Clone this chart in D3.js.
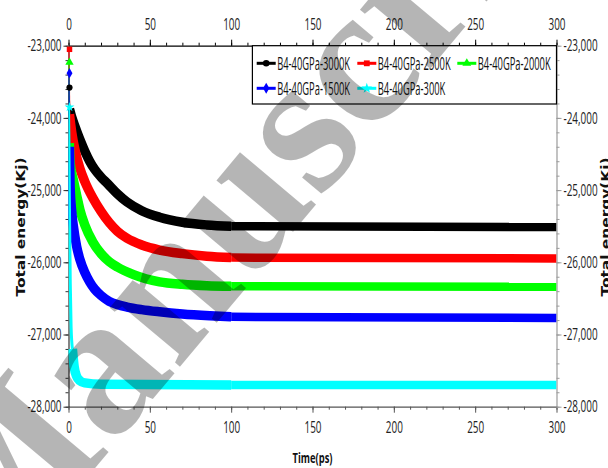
<!DOCTYPE html>
<html>
<head>
<meta charset="utf-8">
<script src="https://cdn.jsdelivr.net/npm/d3@7"></script>
<style>
  html, body { margin: 0; padding: 0; background: #fff; }
  svg { display: block; }
</style>
</head>
<body>
<svg id="chart" width="608" height="468"></svg>
<script>
// ---- data: time (ps) and total energy (kJ) for each run ----
const seriesNames = ["B4-40GPa-3000K", "B4-40GPa-2500K", "B4-40GPa-2000K", "B4-40GPa-1500K", "B4-40GPa-300K"];
const seriesColors = ["#000000", "#ff0000", "#00ff00", "#0000ff", "#00ffff"];

const run3000K = [[0,-23580],[0.6,-23880],[1,-23910],[2,-23990],[4,-24120],[7,-24300],[10,-24460],[13,-24600],[16,-24710],[20,-24820],[24,-24910],[30,-25050],[36,-25165],[45,-25285],[56,-25375],[70,-25445],[85,-25482],[100,-25500],[300,-25511]];
const run2500K = [[0,-23050],[0.6,-23950],[1,-24030],[2,-24200],[4,-24445],[7,-24700],[10,-24880],[15,-25110],[20,-25295],[25,-25450],[30,-25570],[36,-25668],[45,-25760],[56,-25830],[70,-25880],[85,-25915],[100,-25935],[300,-25947]];
const run2000K = [[0,-23230],[0.5,-24350],[1,-24620],[3,-24860],[5,-25070],[7,-25270],[10,-25480],[15,-25720],[20,-25880],[25,-25990],[30,-26065],[40,-26170],[56,-26270],[70,-26305],[85,-26325],[100,-26333],[300,-26338]];
const run1500K = [[0,-23380],[0.5,-24400],[1,-24950],[2,-25300],[3,-25500],[5,-25780],[7,-25960],[10,-26140],[13,-26270],[16,-26370],[20,-26460],[25,-26540],[30,-26585],[36,-26620],[45,-26655],[56,-26685],[70,-26715],[87,-26740],[100,-26755],[300,-26770]];
const run300K  = [[0,-23850],[0.3,-24500],[0.7,-25500],[1.1,-26300],[1.6,-26900],[2.4,-27200],[3.5,-27450],[5,-27580],[7,-27640],[10,-27670],[20,-27690],[100,-27700],[300,-27700]];
const seriesData = [run3000K, run2500K, run2000K, run1500K, run300K];

// time from which each run is drawn as its wide fluctuation band
const bandFrom = [0.6, 0.6, 0.5, 0.5, 2.4];
// end of the sampled (fluctuating) stretch of every run
const sampledUntil = 100;

const xMajorTicks = [0, 50, 100, 150, 200, 250, 300];
const yMajorTicks = [-28000, -27000, -26000, -25000, -24000, -23000];
const xLabel = "Time(ps)";
const yLabel = "Total energy(Kj)";

// ---- layout ----
const svg = d3.select("#chart");
const X0 = 68.5, X1 = 556.5, Y0 = 406.7, Y1 = 45.7;
const x = d3.scaleLinear().domain([0, 300]).range([X0, X1]);
const y = d3.scaleLinear().domain([-28000, -23000]).range([Y0, Y1]);

const tickFont = "'Open Sans', 'DejaVu Sans', sans-serif";
const fmtY = d => d3.format(",")(d).replace("\u2212", "-");

// squeeze text horizontally to the narrow face used in the figure
function squeeze(sel, factor) {
  sel.each(function () {
    const len = this.getComputedTextLength();
    d3.select(this).attr("textLength", len * factor).attr("lengthAdjust", "spacingAndGlyphs");
  });
}

svg.append("defs").append("clipPath").attr("id", "plotClip")
  .append("rect").attr("x", X0).attr("y", Y1 - 6).attr("width", X1 - X0).attr("height", Y0 - Y1 + 6);

// ---- axes ----
function axisPair(gen, scale, major, minor, fmt, pos, color, pad) {
  const g = svg.append("g").attr("transform", pos);
  g.append("g").call(gen(scale).tickValues(minor).tickSize(3).tickSizeOuter(0).tickFormat(""))
    .call(s => s.select(".domain").remove())
    .call(s => s.selectAll("line").attr("stroke", color));
  const m = g.append("g").call(gen(scale).tickValues(major).tickSize(6).tickSizeOuter(0).tickPadding(pad).tickFormat(fmt));
  m.select(".domain").attr("stroke", color).attr("stroke-width", 1.2);
  m.selectAll("line").attr("stroke", color);
  m.selectAll("text").attr("font-family", tickFont).attr("font-size", 16).attr("fill", "#222");
  squeeze(m.selectAll("text"), 0.62);
  return m;
}
const xMinor = d3.range(0, 301, 10);
const yMinor = d3.range(-28000, -22999, 200);

axisPair(d3.axisTop, x, xMajorTicks, xMinor, d3.format("d"), `translate(0,${Y1})`, "#000", 10);
axisPair(d3.axisBottom, x, xMajorTicks, xMinor, d3.format("d"), `translate(0,${Y0})`, "#555", 9);
const leftAx = axisPair(d3.axisLeft, y, yMajorTicks, yMinor, fmtY, `translate(${X0},0)`, "#333", 1);
leftAx.selectAll(".tick line").attr("x2", -5);
const rightAx = axisPair(d3.axisRight, y, yMajorTicks, yMinor, fmtY, `translate(${X1},0)`, "#9a9a9a", 1);
rightAx.selectAll(".tick line").attr("x2", 5);

// ---- series ----
const plot = svg.append("g").attr("clip-path", "url(#plotClip)");
const line = d3.line().x(d => x(d[0])).y(d => y(d[1])).curve(d3.curveMonotoneX);
const symbols = [d3.symbolCircle, d3.symbolSquare, d3.symbolTriangle, d3.symbolDiamond, d3.symbolStar];

seriesData.forEach((data, i) => {
  const head = data.filter(d => d[0] <= bandFrom[i]);
  const noisy = data.filter(d => d[0] >= bandFrom[i] && d[0] <= sampledUntil);
  const flat = data.filter(d => d[0] >= sampledUntil);
  plot.append("path").attr("d", line(head)).attr("fill", "none")
    .attr("stroke", seriesColors[i]).attr("stroke-width", i === 4 ? 3 : 1.8);
  plot.append("path").attr("d", line(noisy)).attr("fill", "none")
    .attr("stroke", seriesColors[i]).attr("stroke-width", 9.5).attr("stroke-linejoin", "round");
  plot.append("path").attr("d", line(flat)).attr("fill", "none")
    .attr("stroke", seriesColors[i]).attr("stroke-width", 8.5);
});
seriesData.forEach((data, i) => {
  svg.append("path")
    .attr("d", d3.symbol().type(symbols[i]).size(30)())
    .attr("transform", `translate(${x(data[0][0]) + 1},${y(data[0][1])})`)
    .attr("fill", seriesColors[i]);
});

// ---- legend ----
const lg = svg.append("g");
lg.append("rect").attr("x", 252.4).attr("y", Y1).attr("width", X1 - 252.4).attr("height", 104 - Y1)
  .attr("fill", "#fff").attr("stroke", "#000").attr("stroke-width", 1.2);
const legCols = [256.7, 357.3, 457.3];
const legRows = [63.3, 88.3];
seriesNames.forEach((name, i) => {
  const cx = legCols[i % 3], cy = legRows[Math.floor(i / 3)];
  const it = lg.append("g").attr("transform", `translate(${cx},${cy})`);
  it.append("line").attr("x1", 0).attr("x2", 19).attr("stroke", seriesColors[i]).attr("stroke-width", 3);
  it.append("path").attr("d", d3.symbol().type(symbols[i]).size(34)()).attr("transform", "translate(9.5,0)")
    .attr("fill", seriesColors[i]);
  const t = it.append("text").attr("x", 20.5).attr("y", 0).attr("dy", "0.36em")
    .attr("font-family", tickFont).attr("font-size", 18).attr("fill", "#111").text(name);
  squeeze(t, 0.52);
});

// ---- axis titles ----
const xt = svg.append("text").attr("x", (X0 + X1) / 2).attr("y", 463).attr("text-anchor", "middle")
  .attr("font-family", tickFont).attr("font-weight", "bold").attr("font-size", 15).attr("fill", "#111").text(xLabel);
xt.attr("textLength", 40).attr("lengthAdjust", "spacingAndGlyphs");
[[24.5, 227], [610, 227]].forEach(([tx, ty]) => {
  svg.append("text").attr("transform", `translate(${tx},${ty}) rotate(-90)`).attr("text-anchor", "middle")
    .attr("font-family", "'DejaVu Sans', Verdana, sans-serif").attr("font-weight", "bold").attr("font-size", 11.5)
    .attr("fill", "#111").attr("textLength", 139).attr("lengthAdjust", "spacingAndGlyphs").text(yLabel);
});

// ---- diagonal translucent watermark over the whole figure ----
svg.append("text").attr("transform", "translate(-9,592) rotate(-50)")
  .attr("font-family", "'Liberation Serif', 'DejaVu Serif', serif").attr("font-size", 200)
  .attr("font-weight", "bold").attr("fill", "#000").attr("fill-opacity", 0.29).text("Manuscript");
</script>
</body>
</html>
